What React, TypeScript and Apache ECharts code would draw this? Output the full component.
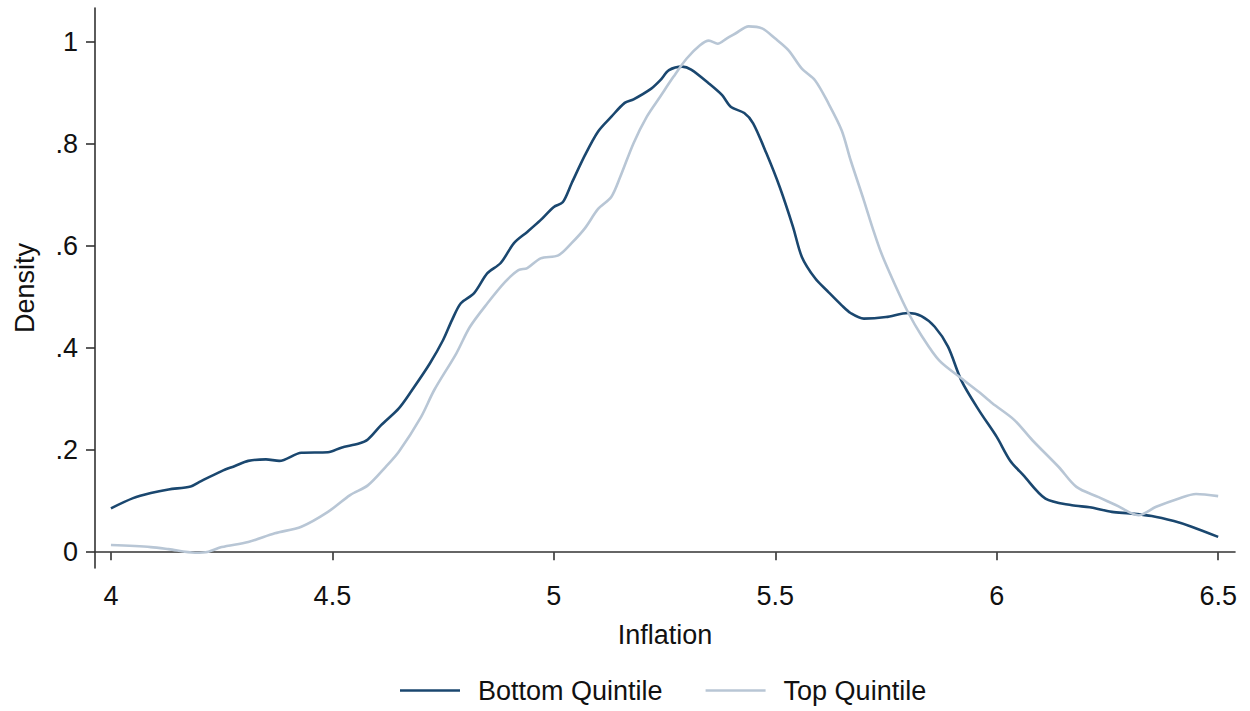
import React, { useEffect, useRef } from "react";
import * as echarts from "echarts";

const seriesNames = ["Bottom Quintile", "Top Quintile"];
const xTicks = [4, 4.5, 5, 5.5, 6, 6.5];
const yTicks = [0, 0.2, 0.4, 0.6, 0.8, 1];

const bottomQuintile: [number, number][] = [
  [4.0, 0.086], [4.05, 0.106], [4.09, 0.116], [4.13, 0.123], [4.18, 0.129], [4.2, 0.138],
  [4.25, 0.159], [4.28, 0.169], [4.31, 0.179], [4.35, 0.182], [4.38, 0.179], [4.43, 0.195],
  [4.49, 0.196], [4.52, 0.205], [4.56, 0.213], [4.58, 0.221], [4.61, 0.249], [4.65, 0.282],
  [4.68, 0.318], [4.72, 0.37], [4.75, 0.416], [4.77, 0.455], [4.79, 0.488], [4.82, 0.508],
  [4.85, 0.547], [4.88, 0.567], [4.91, 0.606], [4.94, 0.628], [4.97, 0.651], [5.0, 0.677],
  [5.02, 0.686], [5.04, 0.723], [5.07, 0.778], [5.1, 0.825], [5.13, 0.854], [5.16, 0.881],
  [5.18, 0.888], [5.22, 0.909], [5.24, 0.925], [5.26, 0.945], [5.29, 0.952], [5.31, 0.946],
  [5.35, 0.919], [5.38, 0.896], [5.4, 0.873], [5.43, 0.861], [5.45, 0.841], [5.48, 0.782],
  [5.51, 0.716], [5.54, 0.638], [5.56, 0.579], [5.59, 0.537], [5.62, 0.51], [5.65, 0.484],
  [5.67, 0.469], [5.7, 0.458], [5.75, 0.461], [5.8, 0.469], [5.83, 0.463], [5.86, 0.442],
  [5.89, 0.403], [5.92, 0.337], [5.96, 0.278], [6.0, 0.226], [6.03, 0.18], [6.06, 0.151],
  [6.11, 0.105], [6.17, 0.092], [6.21, 0.088], [6.26, 0.079], [6.3, 0.076], [6.35, 0.071],
  [6.4, 0.061], [6.44, 0.05], [6.5, 0.03],
];

const topQuintile: [number, number][] = [
  [4.0, 0.014], [4.09, 0.01], [4.13, 0.006], [4.19, -0.001], [4.22, 0.001], [4.25, 0.01],
  [4.31, 0.02], [4.37, 0.037], [4.43, 0.05], [4.49, 0.079], [4.54, 0.112], [4.58, 0.131],
  [4.62, 0.167], [4.65, 0.197], [4.7, 0.265], [4.73, 0.318], [4.78, 0.39], [4.81, 0.441],
  [4.85, 0.488], [4.89, 0.53], [4.92, 0.553], [4.94, 0.557], [4.97, 0.576], [5.01, 0.582],
  [5.04, 0.606], [5.07, 0.635], [5.1, 0.673], [5.13, 0.697], [5.15, 0.736], [5.18, 0.802],
  [5.21, 0.854], [5.24, 0.893], [5.27, 0.932], [5.3, 0.968], [5.33, 0.994], [5.35, 1.003],
  [5.37, 0.997], [5.39, 1.007], [5.41, 1.017], [5.44, 1.031], [5.47, 1.027], [5.5, 1.007],
  [5.53, 0.984], [5.56, 0.948], [5.59, 0.925], [5.62, 0.88], [5.65, 0.827], [5.67, 0.769],
  [5.7, 0.69], [5.72, 0.635], [5.74, 0.585], [5.77, 0.525], [5.8, 0.47], [5.83, 0.425],
  [5.87, 0.376], [5.92, 0.341], [5.96, 0.314], [5.99, 0.292], [6.04, 0.259], [6.08, 0.22],
  [6.14, 0.167], [6.18, 0.128], [6.23, 0.108], [6.27, 0.092], [6.32, 0.0725], [6.36, 0.089],
  [6.41, 0.105], [6.45, 0.114], [6.5, 0.11],
];

const FONT = "'Liberation Sans', Arial, sans-serif";

export default function App() {
  const ref = useRef<HTMLDivElement>(null);
  useEffect(() => {
    if (!ref.current) return;
    const chart = echarts.init(ref.current, null, { renderer: "svg" });
    const fmt = (v: number) => {
      const s = String(Math.round(v * 10) / 10);
      return s.startsWith("0.") ? s.slice(1) : s;
    };
    chart.setOption({
      animation: false,
      backgroundColor: "#fff",
      grid: { left: 95, right: 15, top: 8, bottom: 143 },
      legend: {
        bottom: 7,
        left: 400,
        padding: 0,
        icon: "rect",
        itemWidth: 60,
        itemHeight: 2.6,
        itemGap: 43,
        textStyle: { fontFamily: FONT, fontSize: 27, color: "#111", padding: [0, 0, 0, 13] },
        data: seriesNames,
      },
      xAxis: {
        type: "value",
        min: 3.964,
        max: 6.538,
        name: "Inflation",
        nameLocation: "middle",
        nameGap: 53,
        nameTextStyle: { fontFamily: FONT, fontSize: 27, color: "#111" },
        axisLine: { show: true, lineStyle: { color: "#333", width: 1.6 } },
        axisTick: { show: true, length: 8, customValues: xTicks, lineStyle: { color: "#333", width: 1.6 } },
        axisLabel: { customValues: xTicks, formatter: fmt, fontFamily: FONT, fontSize: 27, color: "#111", margin: 14 },
        splitLine: { show: false },
      },
      yAxis: {
        type: "value",
        min: -0.031,
        max: 1.067,
        name: "Density",
        nameLocation: "middle",
        nameGap: 57,
        nameTextStyle: { fontFamily: FONT, fontSize: 27, color: "#111" },
        axisLine: { show: true, lineStyle: { color: "#333", width: 1.6 } },
        axisTick: { show: true, length: 9, customValues: yTicks, lineStyle: { color: "#333", width: 1.6 } },
        axisLabel: { customValues: yTicks, formatter: fmt, fontFamily: FONT, fontSize: 27, color: "#111", margin: 17 },
        splitLine: { show: false },
      },
      series: [
        {
          name: seriesNames[0],
          type: "line",
          data: bottomQuintile,
          showSymbol: false,
          symbol: "none",
          smooth: 0.3,
          lineStyle: { color: "#1a476f", width: 2.6 },
          itemStyle: { color: "#1a476f" },
        },
        {
          name: seriesNames[1],
          type: "line",
          data: topQuintile,
          showSymbol: false,
          symbol: "none",
          smooth: 0.3,
          lineStyle: { color: "#b8c6d5", width: 2.6 },
          itemStyle: { color: "#b8c6d5" },
        },
      ],
    });
    return () => chart.dispose();
  }, []);
  return <div ref={ref} style={{ width: 1250, height: 711, position: "absolute", left: 0, top: 0 }} />;
}
